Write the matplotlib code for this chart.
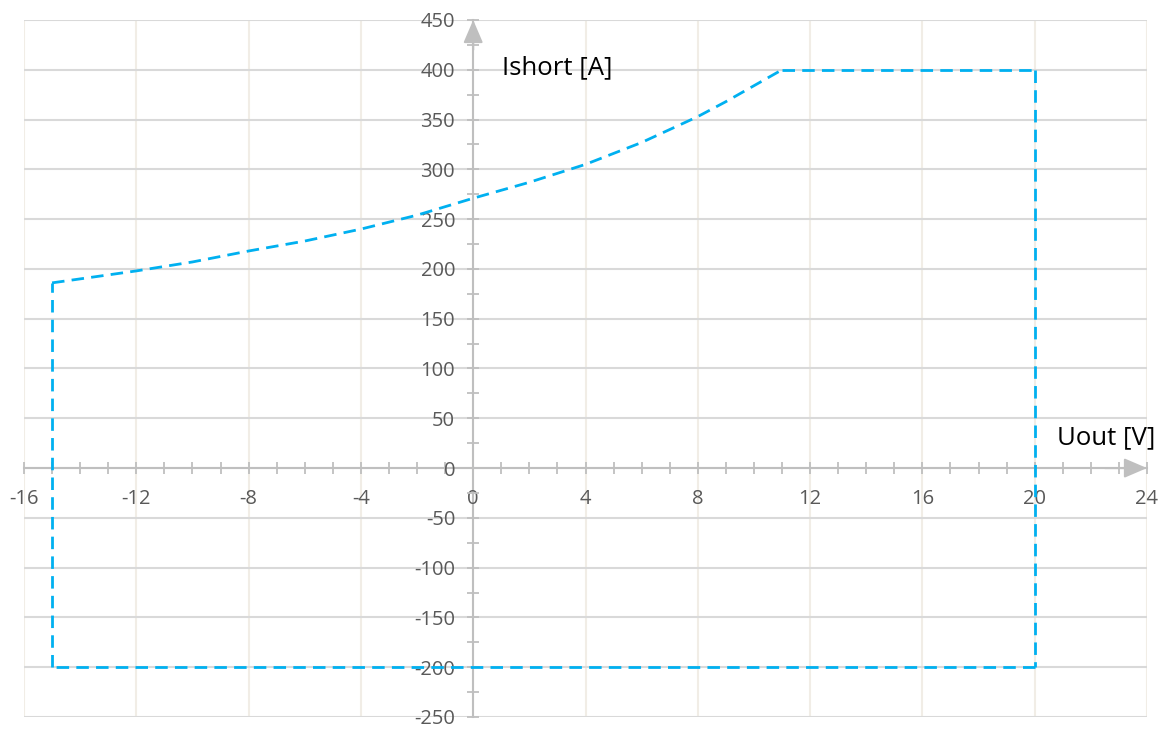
import matplotlib
matplotlib.use("Agg")
import matplotlib.pyplot as plt
from matplotlib.ticker import MultipleLocator

# Data
curve_u = [-15, -14, -12, -10, -8, -6, -4, -2, 0, 2, 4, 6, 8, 9, 10, 11]
curve_i = [186, 190, 198, 207, 218, 228, 240, 254, 271, 287, 305, 327, 353, 368, 384, 400]
top_u = [11, 20]
top_i = [400, 400]
right_u = [20, 20]
right_i = [400, -200]
bottom_u = [20, -15]
bottom_i = [-200, -200]
left_u = [-15, -15]
left_i = [-200, 186]

x_ticks = list(range(-16, 25, 4))
y_ticks = list(range(-250, 451, 50))

FONT = "Open Sans"
plt.rcParams['font.family'] = [FONT, 'DejaVu Sans']
plt.rcParams['axes.unicode_minus'] = False

fig = plt.figure(figsize=(11.67, 7.29), dpi=100)
W, H = 1167, 729
ax = fig.add_axes([24 / W, (729 - 717) / H, (1147 - 24) / W, (717 - 20) / H])
ax.set_xlim(-16, 24)
ax.set_ylim(-250, 450)

# grid
for x in x_ticks:
    ax.axvline(x, color='#F1EDE6', lw=1.5, zorder=0)
for y in y_ticks:
    ax.axhline(y, color='#D9D9D9', lw=1.5, zorder=0)

# spines
axis_col = '#BFBFBF'
for s in ['top', 'right']:
    ax.spines[s].set_visible(False)
ax.spines['left'].set_position(('data', 0))
ax.spines['bottom'].set_position(('data', 0))
for s in ['left', 'bottom']:
    ax.spines[s].set_color(axis_col)
    ax.spines[s].set_linewidth(1.5)
    ax.spines[s].set_zorder(1)

ax.set_xticks(x_ticks)
ax.set_yticks(y_ticks)
ax.xaxis.set_minor_locator(MultipleLocator(1))
ax.yaxis.set_minor_locator(MultipleLocator(25))
ax.tick_params(which='both', direction='inout', length=8, width=1.3, color=axis_col,
               labelcolor='#595959', labelsize=14.5)
ax.tick_params(axis='x', which='major', pad=11)
ax.tick_params(axis='y', which='major', pad=9)

# arrow heads
ax.annotate('', xy=(0, 450), xytext=(0, 420),
            arrowprops=dict(arrowstyle='-|>,head_length=1.4,head_width=0.6',
                            color=axis_col, lw=1.5, shrinkA=0, shrinkB=0), zorder=1)
ax.annotate('', xy=(24, 0), xytext=(22.5, 0),
            arrowprops=dict(arrowstyle='-|>,head_length=1.4,head_width=0.6',
                            color=axis_col, lw=1.5, shrinkA=0, shrinkB=0), zorder=1)

# series
style = dict(color='#00B0F0', lw=2.0, dashes=(4.5, 2.6), zorder=3, clip_on=False)
ax.plot(curve_u, curve_i, **style)
ax.plot(top_u, top_i, **style)
ax.plot(right_u, right_i, **style)
ax.plot(bottom_u, bottom_i, **style)
ax.plot(left_u, left_i, **style)

# axis titles (figure pixel positions, y from top)
fig.text(502 / W, 1 - 68 / H, 'Ishort [A]', fontsize=18.5,
         color='black', ha='left', va='center')
fig.text(1057 / W, 1 - 438 / H, 'Uout [V]', fontsize=18.5,
         color='black', ha='left', va='center')

fig.savefig('out.png', dpi=100)
